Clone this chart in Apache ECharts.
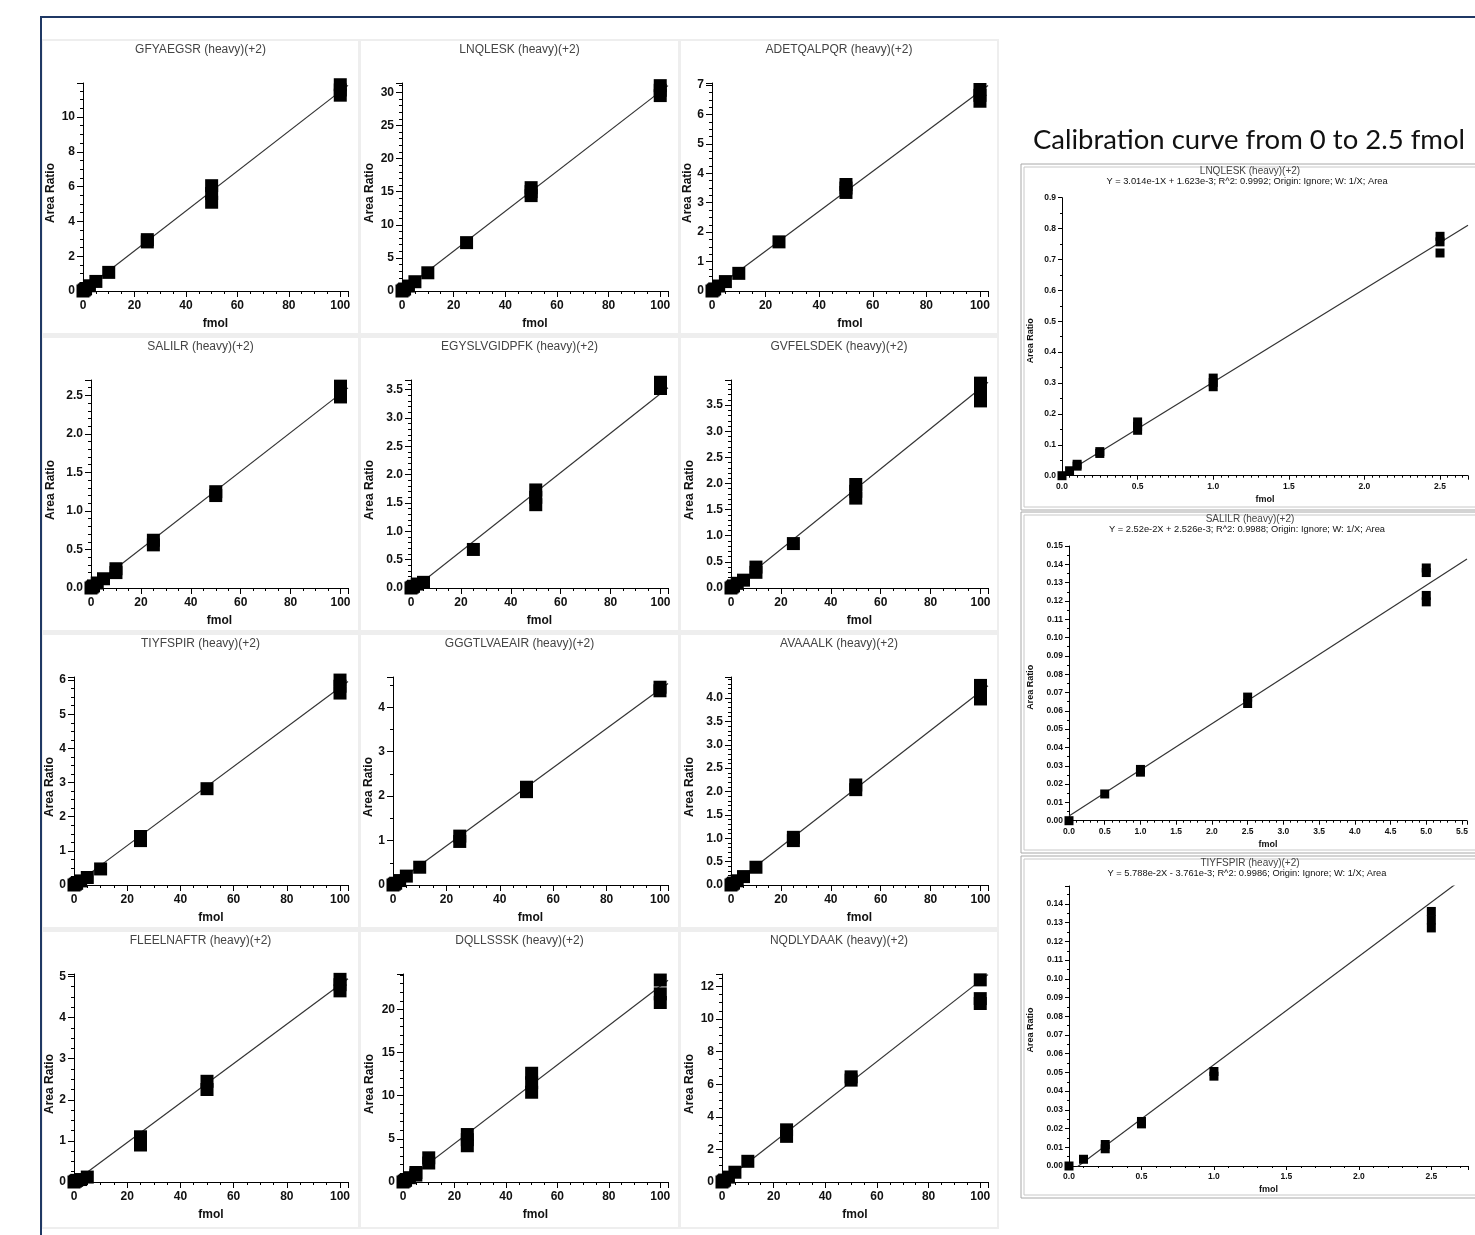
<!DOCTYPE html>
<html><head><meta charset="utf-8">
<script src="https://cdn.jsdelivr.net/npm/echarts@6/dist/echarts.min.js"></script>
<style>html,body{margin:0;padding:0;background:#fff}#c{width:1475px;height:1235px}</style>
</head><body><div id="c"></div>
<script>
const FONT = '"Liberation Sans", Arial, sans-serif';

// ---------- text ----------
const peptides = ['GFYAEGSR','LNQLESK','ADETQALPQR','SALILR','EGYSLVGIDPFK','GVFELSDEK',
                  'TIYFSPIR','GGGTLVAEAIR','AVAAALK','FLEELNAFTR','DQLLSSSK','NQDLYDAAK'];
const calPeptides = ['LNQLESK','SALILR','TIYFSPIR'];
const calEquations = [
  'Y = 3.014e-1X + 1.623e-3; R^2: 0.9992; Origin: Ignore; W: 1/X; Area',
  'Y = 2.52e-2X + 2.526e-3; R^2: 0.9988; Origin: Ignore; W: 1/X; Area',
  'Y = 5.788e-2X - 3.761e-3; R^2: 0.9986; Origin: Ignore; W: 1/X; Area'];
const heading = 'Calibration curve from 0 to 2.5 fmol';
const xName = 'fmol', yName = 'Area Ratio', suffix = ' (heavy)(+2)';

// ---------- data (fmol, area ratio) ----------
const fmol_GFYAEGSR  = [0,0.5,1,2.5,5,10,25,25,50,50,50,100,100,100];
const ratio_GFYAEGSR = [0,0.06,0.12,0.3,0.55,1.07,2.82,2.95,5.1,5.6,6.05,11.25,11.55,11.85];
const fmol_LNQLESK  = [0,0.5,1,2.5,5,10,25,50,50,50,100,100,100];
const ratio_LNQLESK = [0,0.15,0.3,0.75,1.4,2.75,7.3,14.4,15.0,15.6,29.5,30.3,31.0];
const fmol_ADETQALPQR  = [0,0.5,1,2.5,5,10,25,50,50,50,100,100,100];
const ratio_ADETQALPQR = [0,0.035,0.07,0.17,0.32,0.6,1.67,3.35,3.5,3.62,6.45,6.65,6.85];
const fmol_SALILR  = [0,0.5,1,2.5,5,10,10,25,25,50,50,100,100,100];
const ratio_SALILR = [0,0.013,0.027,0.065,0.12,0.2,0.25,0.56,0.62,1.2,1.25,2.48,2.55,2.62];
const fmol_EGYSLVGIDPFK  = [0,0.5,1,2.5,5,25,50,50,50,100,100,100];
const ratio_EGYSLVGIDPFK = [0,0.015,0.03,0.07,0.1,0.68,1.47,1.6,1.73,3.52,3.58,3.63];
const fmol_GVFELSDEK  = [0,0.5,1,2.5,5,10,10,25,50,50,50,100,100,100];
const ratio_GVFELSDEK = [0,0.02,0.04,0.09,0.15,0.3,0.4,0.85,1.72,1.85,1.98,3.58,3.75,3.92];
const fmol_TIYFSPIR  = [0,0.5,1,2.5,5,10,25,25,50,100,100,100];
const ratio_TIYFSPIR = [0,0.025,0.05,0.12,0.22,0.47,1.3,1.42,2.82,5.62,5.82,6.0];
const fmol_GGGTLVAEAIR  = [0,0.5,1,2.5,5,10,25,25,50,50,100,100];
const ratio_GGGTLVAEAIR = [0,0.02,0.04,0.1,0.2,0.4,0.98,1.1,2.1,2.2,4.37,4.45];
const fmol_AVAAALK  = [0,0.5,1,2.5,5,10,25,25,50,50,100,100,100];
const ratio_AVAAALK = [0,0.02,0.04,0.09,0.18,0.38,0.95,1.02,2.04,2.14,3.98,4.12,4.27];
const fmol_FLEELNAFTR  = [0,0.5,1,2.5,5,25,25,50,50,100,100,100];
const ratio_FLEELNAFTR = [0,0.02,0.04,0.06,0.12,0.9,1.1,2.25,2.45,4.65,4.8,4.93];
const fmol_DQLLSSSK  = [0,0.5,1,2.5,5,5,10,10,25,25,25,50,50,50,100,100,100];
const ratio_DQLLSSSK = [0,0.1,0.2,0.5,0.8,1.1,2.2,2.8,4.2,4.9,5.5,10.4,11.5,12.6,20.8,21.8,23.4];
const fmol_NQDLYDAAK  = [0,0.5,1,2.5,5,10,25,25,50,50,100,100,100];
const ratio_NQDLYDAAK = [0,0.06,0.12,0.3,0.6,1.27,2.8,3.2,6.25,6.45,10.95,11.25,12.4];
// low range calibration curves
const fmol_cal_LNQLESK  = [0,0.05,0.1,0.1,0.25,0.25,0.5,0.5,0.5,1,1,1,2.5,2.5,2.5];
const ratio_cal_LNQLESK = [0,0.016,0.031,0.037,0.072,0.078,0.147,0.16,0.174,0.288,0.302,0.316,0.721,0.757,0.775];
const fmol_cal_SALILR  = [0,0.5,1,1,2.5,2.5,5,5,5,5];
const ratio_cal_SALILR = [0,0.0146,0.0265,0.028,0.064,0.0675,0.1195,0.123,0.1355,0.138];
const fmol_cal_TIYFSPIR  = [0,0.1,0.25,0.25,0.5,0.5,1,1,2.5,2.5,2.5];
const ratio_cal_TIYFSPIR = [0,0.0036,0.0092,0.0115,0.0225,0.0238,0.048,0.0505,0.1272,0.1315,0.136];

// regression fits: y = slope*x + intercept
const slopes     = [0.1145,0.301,0.0678,0.0252,0.0348,0.0385,0.05788,0.044,0.0415,0.048,0.228,0.124, 0.3014,0.0252,0.05788];
const intercepts = [0.02,0,0,0.0025,-0.05,-0.03,-0.0038,0,-0.01,0,-0.1,-0.05, 0.001623,0.002526,-0.003761];

// axis ticks
const xMax      = [103,103,103,103,103,103,103,103,103,103,103,103, 2.685,5.57,2.753];
const xInterval = [20,20,20,20,20,20,20,20,20,20,20,20, 0.5,0.5,0.5];
const xDec      = [0,0,0,0,0,0,0,0,0,0,0,0, 1,1,1];
const xMinor    = [4,4,4,4,4,4,4,4,4,4,4,4, 10,5,5];
const yMax      = [11.95,31.4,7.07,2.7,3.67,3.98,6.09,4.68,4.45,5.06,24.1,12.76, 0.9,0.15,0.1496];
const yInterval = [2,5,1,0.5,0.5,0.5,1,1,0.5,1,5,2, 0.1,0.01,0.01];
const yDec      = [0,0,0,1,1,1,0,0,1,0,0,0, 1,2,2];
const yMinor    = [4,5,4,5,5,5,4,2,5,4,5,4, 2,2,2];
const yShowMax  = [false,false,false,false,false,false,false,false,false,false,false,false, true,true,false];

const xs = [fmol_GFYAEGSR,fmol_LNQLESK,fmol_ADETQALPQR,fmol_SALILR,fmol_EGYSLVGIDPFK,fmol_GVFELSDEK,
            fmol_TIYFSPIR,fmol_GGGTLVAEAIR,fmol_AVAAALK,fmol_FLEELNAFTR,fmol_DQLLSSSK,fmol_NQDLYDAAK,
            fmol_cal_LNQLESK,fmol_cal_SALILR,fmol_cal_TIYFSPIR];
const ys = [ratio_GFYAEGSR,ratio_LNQLESK,ratio_ADETQALPQR,ratio_SALILR,ratio_EGYSLVGIDPFK,ratio_GVFELSDEK,
            ratio_TIYFSPIR,ratio_GGGTLVAEAIR,ratio_AVAAALK,ratio_FLEELNAFTR,ratio_DQLLSSSK,ratio_NQDLYDAAK,
            ratio_cal_LNQLESK,ratio_cal_SALILR,ratio_cal_TIYFSPIR];

// ---------- layout (pixels) ----------
const gridBox = [
  [83,83,265,208],[402,83,266,208],[712,83,276,208],
  [91,380,257,208],[411,380,257,208],[731,380,257,208],
  [74,677,274,208],[393,677,275,208],[731,677,257,208],
  [74,974,274,208],[403,974,265,208],[722,974,266,208],
  [1062,197.7,406,278],[1069,546,398,274.7],[1069,886,399,280]];
const nameXCol = [51,370,690];
const panelCols = [[43,315],[361,317],[681,316]];
const panelRows = [[41,292],[338,292],[635,292],[932,295]];
const calBoxes = [[1021,164,346],[1021,512,341],[1021,856,342]];

const grids=[], xAxes=[], yAxes=[], series=[];
for (let i=0;i<15;i++){
  const small = i<12;
  const g = gridBox[i];
  grids.push({left:g[0], top:g[1], width:g[2], height:g[3], containLabel:false, outerBoundsMode:'none', show:false});
  const lf = small?12:8.5, nf = small?12:9;
  const tl = small?6:4;
  const common = {
    type:'value', gridIndex:i, nameLocation:'middle',
    axisLine:{show:true,onZero:false,lineStyle:{color:'#000',width:1}},
    axisTick:{show:true,length:tl,lineStyle:{color:'#000',width:1}},
    splitLine:{show:false}, minorSplitLine:{show:false}
  };
  xAxes.push(Object.assign({}, common, {
    min:0, max:xMax[i], interval:xInterval[i], name:xName, nameGap:small?27:19,
    nameTextStyle:{fontFamily:FONT,fontSize:nf,fontWeight:'bold',color:'#111'},
    minorTick:{show:true,splitNumber:xMinor[i],length:small?3:2,lineStyle:{color:'#000',width:1}},
    axisLabel:{margin:tl+(small?3:2),fontFamily:FONT,fontSize:lf,fontWeight:'bold',color:'#111',
      showMaxLabel:false,showMinLabel:true,hideOverlap:false,formatter:(v)=>v.toFixed(xDec[i])}
  }));
  const nameX = small ? nameXCol[i%3] : 1031;
  yAxes.push(Object.assign({}, common, {
    min:0, max:yMax[i], interval:yInterval[i], name:yName, nameGap:g[0]-nameX-nf/2,
    nameTextStyle:{fontFamily:FONT,fontSize:nf,fontWeight:'bold',color:'#111',padding:small?[0,12,0,0]:[0,8,0,0]},
    minorTick:{show:true,splitNumber:yMinor[i],length:small?3:2,lineStyle:{color:'#000',width:1}},
    axisLabel:{margin:tl+2,fontFamily:FONT,fontSize:lf,fontWeight:'bold',color:'#111',
      showMaxLabel:yShowMax[i],showMinLabel:true,hideOverlap:false,formatter:(v)=>v.toFixed(yDec[i])}
  }));
  const xm = xMax[i];
  series.push({type:'line', xAxisIndex:i, yAxisIndex:i, symbol:'none', clip:true, silent:true, z:2,
    lineStyle:{color:'#333',width:1.2},
    data:[[0, intercepts[i]], [xm, slopes[i]*xm + intercepts[i]]]});
  series.push({type:'scatter', xAxisIndex:i, yAxisIndex:i, symbol:'rect', symbolSize:small?[13,13]:[9,9],
    itemStyle:{color:'#000',opacity:1}, z:3, silent:true,
    data: xs[i].map((x,k)=>[x, ys[i][k]])});
}

// ---------- decoration ----------
const elements = [];
elements.push({type:'rect', z:-10, silent:true, shape:{x:42,y:39,width:957,height:1190}, style:{fill:'#eeeeee'}});
for (let r=0;r<4;r++) for (let c=0;c<3;c++){
  const [px,pw]=panelCols[c], [py,ph]=panelRows[r];
  elements.push({type:'rect', z:-9, silent:true, shape:{x:px,y:py,width:pw,height:ph}, style:{fill:'#ffffff'}});
  elements.push({type:'text', z:5, silent:true, x:px+pw/2, y:py+9,
    style:{text:peptides[r*3+c]+suffix, align:'center', verticalAlign:'middle', fontFamily:FONT, fontSize:12, fill:'#444'}});
}
calBoxes.forEach((b,k)=>{
  elements.push({type:'rect', z:-9, silent:true, shape:{x:b[0],y:b[1],width:470,height:b[2]}, style:{fill:'#fff',stroke:'#a8a8a8',lineWidth:1}});
  elements.push({type:'rect', z:-8, silent:true, shape:{x:b[0]+3,y:b[1]+3,width:470,height:b[2]-6}, style:{fill:'#fff',stroke:'#c8c8c8',lineWidth:1}});
  elements.push({type:'text', z:5, silent:true, x:1250, y:b[1]+7,
    style:{text:calPeptides[k]+suffix, align:'center', verticalAlign:'middle', fontFamily:FONT, fontSize:10, fill:'#444'}});
  elements.push({type:'text', z:5, silent:true, x:1247, y:b[1]+17,
    style:{text:calEquations[k], align:'center', verticalAlign:'middle', fontFamily:FONT, fontSize:9.3, fill:'#111'}});
});
elements.push({type:'text', z:5, silent:true, x:1249, y:140,
  style:{text:heading, align:'center', verticalAlign:'middle', fontFamily:'Lato, "Open Sans", sans-serif', fontSize:27.5, fill:'#111'}});
elements.push({type:'line', z:5, silent:true, shape:{x1:40,y1:17,x2:1475,y2:17}, style:{stroke:'#1f3864',lineWidth:2}});
elements.push({type:'line', z:5, silent:true, shape:{x1:41,y1:16,x2:41,y2:1235}, style:{stroke:'#1f3864',lineWidth:2}});

const chart = echarts.init(document.getElementById('c'));
chart.setOption({
  animation:false,
  backgroundColor:'#ffffff',
  grid:grids, xAxis:xAxes, yAxis:yAxes, series:series,
  graphic:{elements:elements}
});
</script></body></html>
